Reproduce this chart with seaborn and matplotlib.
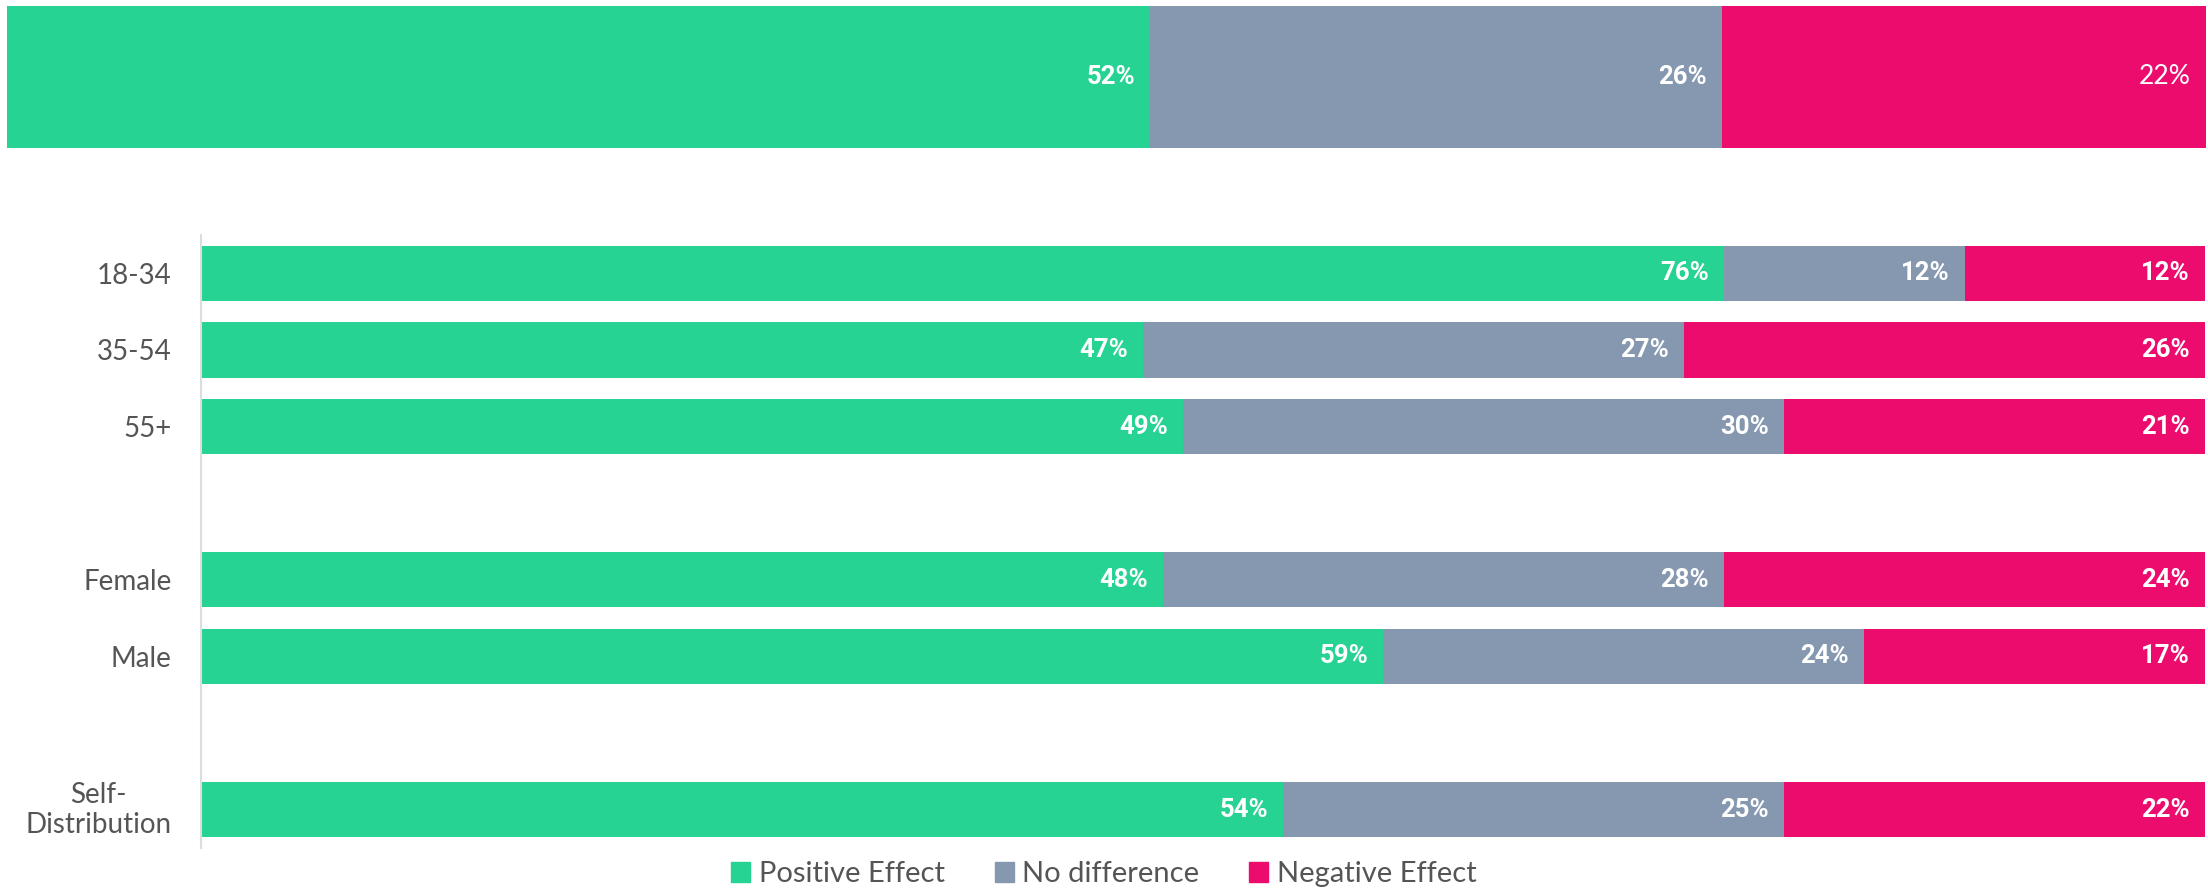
import seaborn as sns
import matplotlib.pyplot as plt
from matplotlib.patches import Patch
import pandas as pd
import numpy as np

series = ["Positive Effect", "No difference", "Negative Effect"]
colors = ["#26D393", "#8598B0", "#EC0C6E"]

overall = [52, 26, 22]

groups = ["18-34", "35-54", "55+", "Female", "Male", "Self-\nDistribution"]
positive = [76, 47, 49, 48, 59, 54]
no_diff = [12, 27, 30, 28, 24, 25]
negative = [12, 26, 21, 24, 17, 22]

# blank rows separate the age, gender and distribution blocks
rows = ["18-34", "35-54", "55+", "gap1", "Female", "Male", "gap2", "Self-\nDistribution"]

sns.set_style("white")
plt.rcParams['font.family'] = ['Lato', 'DejaVu Sans']
bold_font = ['Roboto', 'DejaVu Sans']

fig = plt.figure(figsize=(22.08, 8.91), dpi=100)
ax_top = fig.add_axes([7/2208, 1-148/891, 2199/2208, 142/891])
ax = fig.add_axes([201/2208, 1-848/891, 2004/2208, 613/891])

# overall bar
top = pd.DataFrame({"row": ["All"] * 3, "series": series, "value": overall})
top["cum"] = top["value"].cumsum()
for i in reversed(range(3)):
    sns.barplot(x=[top["cum"][i]], y=["All"], color=colors[i], saturation=1,
                width=1.0, orient="h", ax=ax_top, errorbar=None, linewidth=0)
for i in range(3):
    if i == 2:
        kw = dict(fontweight="normal", fontsize=19)
    else:
        kw = dict(fontweight="bold", fontsize=18.5, family=bold_font)
    ax_top.annotate(f"{top['value'][i]}%", xy=(min(top['cum'][i], 100), 0),
                    xytext=(-11, 0), textcoords="offset points", ha="right", va="center",
                    color="white", **kw)
ax_top.set_xlim(0, 100)
ax_top.set_ylim(0.5, -0.5)
ax_top.axis("off")

# breakdown bars
df = pd.DataFrame({"group": groups, "pos": positive, "nod": no_diff, "neg": negative})
df["c1"] = df["pos"]
df["c2"] = df["pos"] + df["nod"]
df["c3"] = df["c2"] + df["neg"]
cum_cols = ["c1", "c2", "c3"]
val_cols = ["pos", "nod", "neg"]

for i in reversed(range(3)):
    sns.barplot(data=df, x=cum_cols[i], y="group", order=rows, color=colors[i],
                saturation=1, width=0.72, orient="h", ax=ax, errorbar=None, linewidth=0)

for _, r in df.iterrows():
    y = rows.index(r["group"])
    for c, v in zip(cum_cols, val_cols):
        ax.annotate(f"{r[v]}%", xy=(min(r[c], 100), y), xytext=(-11, 0),
                    textcoords="offset points", ha="right", va="center",
                    color="white", fontsize=18.5, fontweight="bold", family=bold_font)

ax.set_xlim(0, 100)
ax.set_ylim(len(rows) - 0.5, -0.5)
ax.set_xticks([])
ax.set_xlabel("")
ax.set_ylabel("")
ax.set_yticks(range(len(rows)))
ax.set_yticks(np.arange(-0.5, len(rows), 1), minor=True)
ax.tick_params(axis="y", which="major", length=0, pad=21, labelsize=20, labelcolor="#555555")
ax.tick_params(axis="y", which="minor", length=6.5, width=1.5, color="#dddddd")
# two-line labels are drawn separately, centred under a right edge found by measuring
ax.set_yticklabels(["" if r.startswith("gap") or "\n" in r else r for r in rows])
renderer = fig.canvas.get_renderer()
for y, r in enumerate(rows):
    if "\n" in r:
        t = ax.annotate(r, xy=(0, y), xycoords=("axes fraction", "data"), xytext=(-21, 0),
                        textcoords="offset points", ha="center", va="center",
                        fontsize=20, color="#555555")
        w = t.get_window_extent(renderer).width * 72 / fig.dpi
        t.set_position((-21 - w / 2, 0))
for s in ["top", "right", "bottom"]:
    ax.spines[s].set_visible(False)
ax.spines["left"].set_color("#dddddd")
ax.spines["left"].set_linewidth(1.5)

handles = [Patch(color=c, label=s) for c, s in zip(colors, series)]
fig.legend(handles=handles, loc="lower center", bbox_to_anchor=(0.5, -0.025), ncol=3,
           frameon=False, fontsize=21, labelcolor="#555555", handlelength=0.65,
           handleheight=0.65, columnspacing=1.7, handletextpad=0.3)

fig.savefig("out.png", dpi=100)
